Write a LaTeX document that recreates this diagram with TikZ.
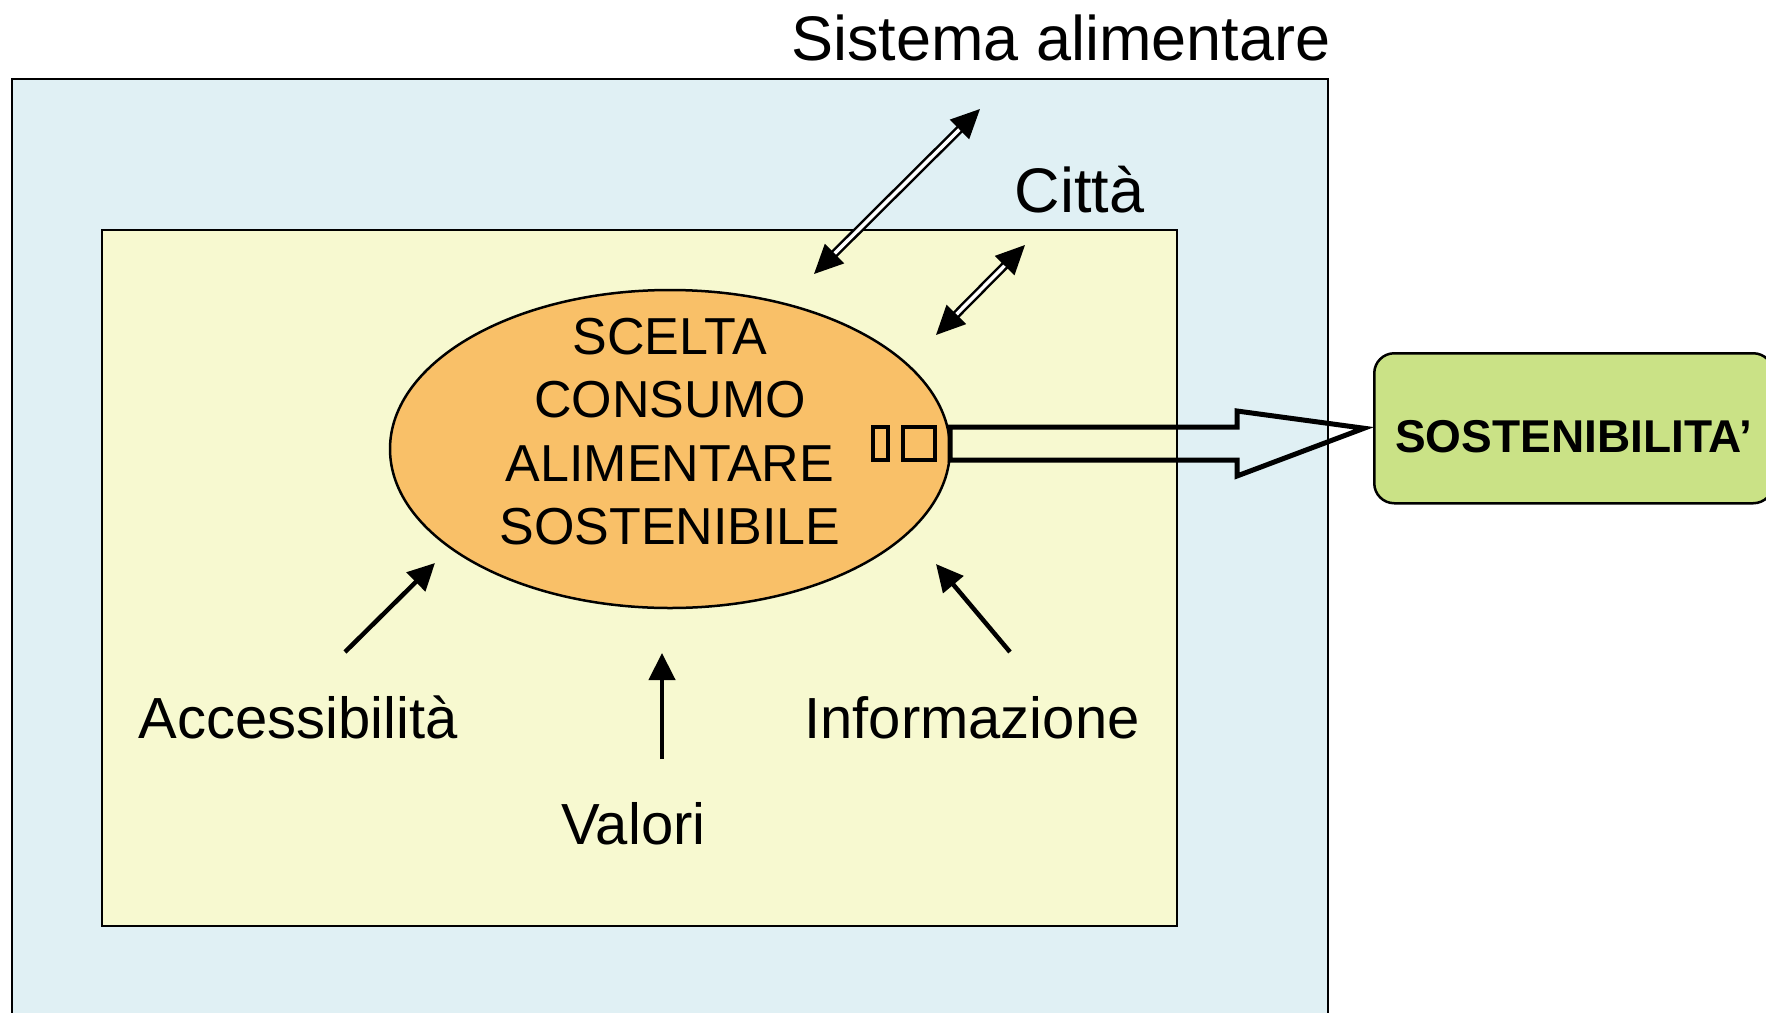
\documentclass[tikz,border=0pt]{standalone}
\usepackage{fontspec}
\setmainfont{Liberation Sans}
\usetikzlibrary{calc}
\usetikzlibrary{shapes}
\usetikzlibrary{arrows.meta}

\definecolor{cielo}{RGB}{224,240,244}
\definecolor{paglia}{RGB}{247,249,208}
\definecolor{arancio}{RGB}{249,192,104}
\definecolor{prato}{RGB}{202,226,134}

\begin{document}
\begin{tikzpicture}[x=1pt,y=-1pt,
		freccia/.style={line width=4.5pt, -{Triangle[length=27pt,width=26pt]}},
		doppia/.style={double=white, double distance=3.5pt, line width=2.5pt,
			{Triangle[length=29pt,width=27pt]}-{Triangle[length=29pt,width=27pt]}},
		etichetta/.style={font=\fontsize{58}{58}\selectfont, anchor=base},
		titolo/.style={font=\fontsize{63}{63}\selectfont, anchor=base}]
				\useasboundingbox (0,0) rectangle (1766,1012);
				
				% sfondi
				\draw[line width=2.5pt, fill=cielo] (12,79) rectangle (1328,1040);
				\draw[line width=2.5pt, fill=paglia] (102,230) rectangle (1177,926);
				
				\node[ellipse, draw, line width=2.5pt, fill=arancio, minimum width=560pt, minimum height=318pt] (scelta) at (670,449) {};
				\node[align=center, font=\fontsize{52}{63.5}\selectfont, inner sep=0pt] (sceltatxt) at (670,431.5) {SCELTA\\CONSUMO\\ALIMENTARE\\SOSTENIBILE};
				
				\node[titolo] (sistema) at (1061,60) {Sistema alimentare};
				\node[titolo] (citta) at (1079.5,212) {Città};
				\node[etichetta] (access) at (298,738) {Accessibilità};
				\node[etichetta] (info) at (972,738) {Informazione};
				\node[etichetta] (valori) at (633.5,844) {Valori};
				
				\node[draw, line width=2.5pt, fill=prato, rounded corners=20pt, anchor=north west,
					minimum height=150pt, inner xsep=21pt, text height=49pt,
					font=\fontsize{46}{46}\selectfont\bfseries] (sost) at (1373,352) {SOSTENIBILITA’};
				
				\coordinate (1) at (814,274);
				\coordinate (2) at (980,109);
				\coordinate (3) at (936,335);
				\coordinate (4) at (1025,245);
				\coordinate (5) at (345,652);
				\coordinate (6) at (435,563);
				\coordinate (7) at (662,759);
				\coordinate (8) at (662,653);
				\coordinate (9) at (1010,652);
				\coordinate (10) at (936,564);
				
				\draw[doppia] (1) -- (2);
				\draw[doppia] (3) -- (4);
				\draw[freccia] (5) -- (6);
				\draw[freccia] (7) -- (8);
				\draw[freccia] (9) -- (10);
				
				% quadratini
				\draw[line width=4.5pt] (873,427) rectangle (888,460);
				\draw[line width=4.5pt] (903,427) rectangle (935,460);
				
				% freccia verso la sostenibilita
				\coordinate (11) at (950,443.5);
				\draw[line width=5pt, line join=miter] ($(11)+(0,-16.5)$) -- (1237,427) -- (1237,411)
					-- ($(sost.west)+(-9,0)$) -- (1237,476) -- (1237,460) -- ($(11)+(0,16.5)$) -- cycle;
			\end{tikzpicture}
\end{document}
